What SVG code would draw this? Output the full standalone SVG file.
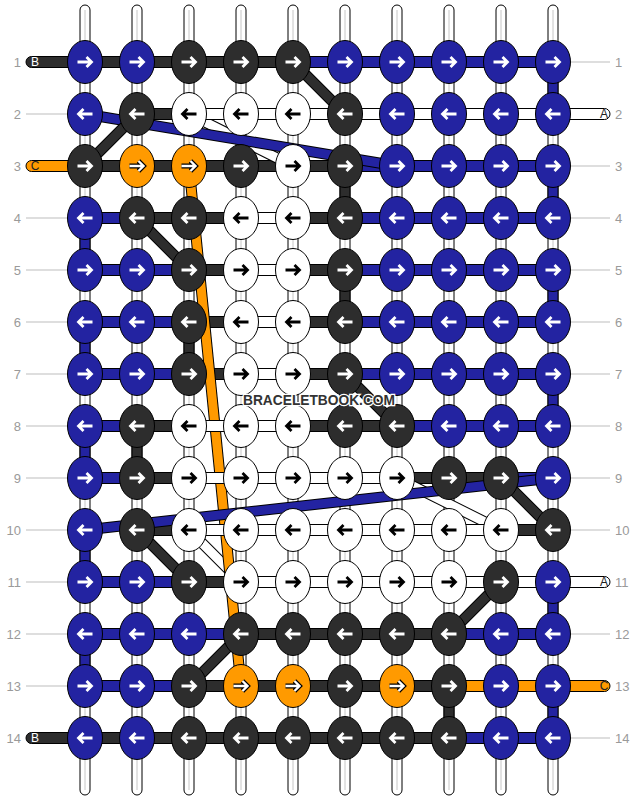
<svg xmlns="http://www.w3.org/2000/svg" xmlns:xlink="http://www.w3.org/1999/xlink" width="636" height="800" viewBox="0 0 636 800">
<style>
.b{fill:#2323a1}.d{fill:#2d2d2d}.w{fill:#fff}.o{fill:#ff9a00}
.aw{stroke:#fff;stroke-width:2.8}.ak{stroke:#000;stroke-width:2.8}.ab{stroke:#000;stroke-width:4.8}.ao{stroke:#fff;stroke-width:2.4}
.num{font-family:"Liberation Sans",Arial,sans-serif;font-size:13px;fill:#9a9a9a}
.lab{font-family:"Liberation Sans",Arial,sans-serif;font-size:12px}
.gl{stroke:#bdbdbd;stroke-width:1}
</style>
<defs>
<ellipse id="E" rx="17.5" ry="21.5" stroke="#000" stroke-width="1"/>
<path id="R" d="M-7.5 0H6M1.5-5L6.5 0L1.5 5" fill="none"/>
<path id="L" d="M7.5 0H-6M-1.5-5L-6.5 0L-1.5 5" fill="none"/>
<rect id="H" x="0" y="-5.5" width="32" height="11" stroke="#000" stroke-width="1"/>
<rect id="V" x="-5" y="0" width="10" height="22" stroke="#000" stroke-width="1"/>
</defs>
<rect width="636" height="800" fill="#fff"/>
<g id="labels">
<g class="gl">
<line x1="26" y1="114" x2="68" y2="114"/><line x1="26" y1="218" x2="68" y2="218"/><line x1="26" y1="270" x2="68" y2="270"/><line x1="26" y1="322" x2="68" y2="322"/><line x1="26" y1="374" x2="68" y2="374"/><line x1="26" y1="426" x2="68" y2="426"/><line x1="26" y1="478" x2="68" y2="478"/><line x1="26" y1="530" x2="68" y2="530"/><line x1="26" y1="582" x2="68" y2="582"/><line x1="26" y1="634" x2="68" y2="634"/><line x1="26" y1="686" x2="68" y2="686"/>
<line x1="571" y1="62" x2="610" y2="62"/><line x1="571" y1="166" x2="610" y2="166"/><line x1="571" y1="218" x2="610" y2="218"/><line x1="571" y1="270" x2="610" y2="270"/><line x1="571" y1="322" x2="610" y2="322"/><line x1="571" y1="374" x2="610" y2="374"/><line x1="571" y1="426" x2="610" y2="426"/><line x1="571" y1="478" x2="610" y2="478"/><line x1="571" y1="530" x2="610" y2="530"/><line x1="571" y1="634" x2="610" y2="634"/><line x1="571" y1="738" x2="610" y2="738"/>
</g>
<g class="num" text-anchor="end">
<text x="21" y="66.5">1</text><text x="21" y="118.5">2</text><text x="21" y="170.5">3</text><text x="21" y="222.5">4</text><text x="21" y="274.5">5</text><text x="21" y="326.5">6</text><text x="21" y="378.5">7</text><text x="21" y="430.5">8</text><text x="21" y="482.5">9</text><text x="21" y="534.5">10</text><text x="21" y="586.5">11</text><text x="21" y="638.5">12</text><text x="21" y="690.5">13</text><text x="21" y="742.5">14</text>
</g>
<g class="num">
<text x="615" y="66.5">1</text><text x="615" y="118.5">2</text><text x="615" y="170.5">3</text><text x="615" y="222.5">4</text><text x="615" y="274.5">5</text><text x="615" y="326.5">6</text><text x="615" y="378.5">7</text><text x="615" y="430.5">8</text><text x="615" y="482.5">9</text><text x="615" y="534.5">10</text><text x="615" y="586.5">11</text><text x="615" y="638.5">12</text><text x="615" y="690.5">13</text><text x="615" y="742.5">14</text>
</g>
</g>
<g id="connectors">
<g id="verticals" fill="#fff" stroke="#000" stroke-width="1">
<rect x="80" y="5" width="10" height="790" rx="5"/><rect x="132" y="5" width="10" height="790" rx="5"/><rect x="184" y="5" width="10" height="790" rx="5"/><rect x="236" y="5" width="10" height="790" rx="5"/><rect x="288" y="5" width="10" height="790" rx="5"/><rect x="340" y="5" width="10" height="790" rx="5"/><rect x="392" y="5" width="10" height="790" rx="5"/><rect x="444" y="5" width="10" height="790" rx="5"/><rect x="496" y="5" width="10" height="790" rx="5"/><rect x="548" y="5" width="10" height="790" rx="5"/>
</g>
<g stroke="#c6c6c6" stroke-width="1">
<line x1="85" y1="10" x2="85" y2="790"/><line x1="137" y1="10" x2="137" y2="790"/><line x1="189" y1="10" x2="189" y2="790"/><line x1="241" y1="10" x2="241" y2="790"/><line x1="293" y1="10" x2="293" y2="790"/><line x1="345" y1="10" x2="345" y2="790"/><line x1="397" y1="10" x2="397" y2="790"/><line x1="449" y1="10" x2="449" y2="790"/><line x1="501" y1="10" x2="501" y2="790"/><line x1="553" y1="10" x2="553" y2="790"/>
</g>
<g id="vsegs">
<use href="#V" x="553" y="77" class="b"/><use href="#V" x="553" y="181" class="b"/><use href="#V" x="553" y="285" class="b"/><use href="#V" x="553" y="389" class="b"/><use href="#V" x="553" y="597" class="b"/><use href="#V" x="553" y="701" class="b"/>
<use href="#V" x="85" y="233" class="b"/><use href="#V" x="85" y="337" class="b"/><use href="#V" x="85" y="441" class="b"/><use href="#V" x="85" y="545" class="b"/><use href="#V" x="85" y="649" class="b"/>
<use href="#V" x="137" y="441" class="d"/><use href="#V" x="189" y="337" class="d"/><use href="#V" x="345" y="181" class="d"/><use href="#V" x="345" y="285" class="d"/><use href="#V" x="449" y="701" class="d"/>
</g>
<g id="hsegs">
<use href="#H" x="95" y="62" class="d"/><use href="#H" x="147" y="62" class="d"/><use href="#H" x="199" y="62" class="d"/><use href="#H" x="251" y="62" class="d"/><use href="#H" x="303" y="62" class="b"/><use href="#H" x="355" y="62" class="b"/><use href="#H" x="407" y="62" class="b"/><use href="#H" x="459" y="62" class="b"/><use href="#H" x="511" y="62" class="b"/>
<use href="#H" x="147" y="114" class="d"/>
<use href="#H" x="95" y="166" class="d"/><use href="#H" x="147" y="166" class="d"/><use href="#H" x="199" y="166" class="d"/><use href="#H" x="251" y="166" class="d"/><use href="#H" x="303" y="166" class="d"/><use href="#H" x="355" y="166" class="b"/><use href="#H" x="407" y="166" class="b"/><use href="#H" x="459" y="166" class="b"/><use href="#H" x="511" y="166" class="b"/>
<use href="#H" x="95" y="218" class="b"/><use href="#H" x="147" y="218" class="d"/><use href="#H" x="199" y="218" class="d"/><use href="#H" x="303" y="218" class="d"/><use href="#H" x="355" y="218" class="b"/><use href="#H" x="407" y="218" class="b"/><use href="#H" x="459" y="218" class="b"/><use href="#H" x="511" y="218" class="b"/>
<use href="#H" x="95" y="270" class="b"/><use href="#H" x="147" y="270" class="b"/><use href="#H" x="199" y="270" class="d"/><use href="#H" x="303" y="270" class="d"/><use href="#H" x="355" y="270" class="b"/><use href="#H" x="407" y="270" class="b"/><use href="#H" x="459" y="270" class="b"/><use href="#H" x="511" y="270" class="b"/>
<use href="#H" x="95" y="322" class="b"/><use href="#H" x="147" y="322" class="b"/><use href="#H" x="199" y="322" class="d"/><use href="#H" x="303" y="322" class="d"/><use href="#H" x="355" y="322" class="b"/><use href="#H" x="407" y="322" class="b"/><use href="#H" x="459" y="322" class="b"/><use href="#H" x="511" y="322" class="b"/>
<use href="#H" x="95" y="374" class="b"/><use href="#H" x="147" y="374" class="b"/><use href="#H" x="199" y="374" class="d"/><use href="#H" x="303" y="374" class="d"/><use href="#H" x="355" y="374" class="b"/><use href="#H" x="407" y="374" class="b"/><use href="#H" x="459" y="374" class="b"/><use href="#H" x="511" y="374" class="b"/>
<use href="#H" x="95" y="426" class="b"/><use href="#H" x="147" y="426" class="d"/><use href="#H" x="303" y="426" class="d"/><use href="#H" x="355" y="426" class="d"/><use href="#H" x="407" y="426" class="b"/><use href="#H" x="459" y="426" class="b"/><use href="#H" x="511" y="426" class="b"/>
<use href="#H" x="95" y="478" class="b"/><use href="#H" x="147" y="478" class="d"/><use href="#H" x="407" y="478" class="d"/><use href="#H" x="459" y="478" class="d"/><use href="#H" x="511" y="478" class="b"/>
<use href="#H" x="147" y="530" class="d"/><use href="#H" x="511" y="530" class="d"/>
<use href="#H" x="95" y="582" class="b"/><use href="#H" x="147" y="582" class="b"/><use href="#H" x="199" y="582" class="d"/>
<use href="#H" x="95" y="634" class="b"/><use href="#H" x="147" y="634" class="b"/><use href="#H" x="199" y="634" class="b"/><use href="#H" x="251" y="634" class="d"/><use href="#H" x="303" y="634" class="d"/><use href="#H" x="355" y="634" class="d"/><use href="#H" x="407" y="634" class="d"/><use href="#H" x="459" y="634" class="b"/><use href="#H" x="511" y="634" class="b"/>
<use href="#H" x="95" y="686" class="b"/><use href="#H" x="147" y="686" class="b"/><use href="#H" x="199" y="686" class="d"/><use href="#H" x="251" y="686" class="d"/><use href="#H" x="303" y="686" class="d"/><use href="#H" x="355" y="686" class="d"/><use href="#H" x="407" y="686" class="d"/><use href="#H" x="459" y="686" class="o"/><use href="#H" x="511" y="686" class="o"/>
<use href="#H" x="95" y="738" class="d"/><use href="#H" x="147" y="738" class="d"/><use href="#H" x="199" y="738" class="d"/><use href="#H" x="251" y="738" class="d"/><use href="#H" x="303" y="738" class="d"/><use href="#H" x="355" y="738" class="d"/><use href="#H" x="407" y="738" class="d"/><use href="#H" x="459" y="738" class="b"/><use href="#H" x="511" y="738" class="b"/>
</g>
<g id="diagonals" fill="none">
<g stroke="#000" stroke-width="11">
<line x1="189" y1="114" x2="293" y2="166"/><line x1="397" y1="478" x2="501" y2="530"/><line x1="189" y1="530" x2="241" y2="582"/>
</g>
<g stroke="#fff" stroke-width="9">
<line x1="189" y1="114" x2="293" y2="166"/><line x1="397" y1="478" x2="501" y2="530"/><line x1="189" y1="530" x2="241" y2="582"/>
</g>
<line x1="189" y1="166" x2="241" y2="686" stroke="#000" stroke-width="11"/>
<line x1="189" y1="166" x2="241" y2="686" stroke="#ff9a00" stroke-width="9"/>
<g stroke="#000" stroke-width="11">
<line x1="85" y1="114" x2="397" y2="166"/><line x1="553" y1="478" x2="85" y2="530"/>
</g>
<g stroke="#2323a1" stroke-width="9">
<line x1="85" y1="114" x2="397" y2="166"/><line x1="553" y1="478" x2="85" y2="530"/>
</g>
<g stroke="#000" stroke-width="11">
<line x1="293" y1="62" x2="345" y2="114"/><line x1="137" y1="114" x2="85" y2="166"/><line x1="137" y1="218" x2="189" y2="270"/><line x1="345" y1="374" x2="397" y2="426"/><line x1="501" y1="478" x2="553" y2="530"/><line x1="137" y1="530" x2="189" y2="582"/><line x1="501" y1="582" x2="449" y2="634"/><line x1="241" y1="634" x2="189" y2="686"/>
</g>
<g stroke="#2d2d2d" stroke-width="9">
<line x1="293" y1="62" x2="345" y2="114"/><line x1="137" y1="114" x2="85" y2="166"/><line x1="137" y1="218" x2="189" y2="270"/><line x1="345" y1="374" x2="397" y2="426"/><line x1="501" y1="478" x2="553" y2="530"/><line x1="137" y1="530" x2="189" y2="582"/><line x1="501" y1="582" x2="449" y2="634"/><line x1="241" y1="634" x2="189" y2="686"/>
</g>
</g>
<g id="whitesegs" class="w">
<use href="#H" x="199" y="114"/><use href="#H" x="251" y="114"/><use href="#H" x="303" y="114"/><use href="#H" x="355" y="114"/><use href="#H" x="407" y="114"/><use href="#H" x="459" y="114"/><use href="#H" x="511" y="114"/>
<use href="#H" x="251" y="218"/><use href="#H" x="251" y="270"/><use href="#H" x="251" y="322"/><use href="#H" x="251" y="374"/>
<use href="#H" x="199" y="426"/><use href="#H" x="251" y="426"/>
<use href="#H" x="199" y="478"/><use href="#H" x="251" y="478"/><use href="#H" x="303" y="478"/><use href="#H" x="355" y="478"/>
<use href="#H" x="199" y="530"/><use href="#H" x="251" y="530"/><use href="#H" x="303" y="530"/><use href="#H" x="355" y="530"/><use href="#H" x="407" y="530"/><use href="#H" x="459" y="530"/>
<use href="#H" x="251" y="582"/><use href="#H" x="303" y="582"/><use href="#H" x="355" y="582"/><use href="#H" x="407" y="582"/><use href="#H" x="459" y="582"/><use href="#H" x="511" y="582"/>
</g>
<g id="ends" stroke="#000" stroke-width="1">
<rect x="26" y="56.5" width="59" height="11" rx="5.5" class="d"/>
<rect x="26" y="160.5" width="59" height="11" rx="5.5" class="o"/>
<rect x="26" y="732.5" width="59" height="11" rx="5.5" class="d"/>
<rect x="553" y="108.5" width="57" height="11" rx="5.5" class="w"/>
<rect x="553" y="576.5" width="57" height="11" rx="5.5" class="w"/>
<rect x="553" y="680.5" width="57" height="11" rx="5.5" class="o"/>
</g>
<g class="lab" text-anchor="middle">
<text x="35" y="66.3" fill="#fff">B</text><text x="35" y="170.3" fill="#222">C</text><text x="35" y="742.3" fill="#fff">B</text>
<text x="604" y="118.3" fill="#222">A</text><text x="604" y="586.3" fill="#222">A</text><text x="604" y="690.3" fill="#222">C</text>
</g>
</g>
<g id="knots">
<g id="k1-1"><use href="#E" x="85" y="62" class="b"/><use href="#R" x="85" y="62" class="aw"/></g>
<g id="k1-2"><use href="#E" x="137" y="62" class="b"/><use href="#R" x="137" y="62" class="aw"/></g>
<g id="k1-3"><use href="#E" x="189" y="62" class="d"/><use href="#R" x="189" y="62" class="aw"/></g>
<g id="k1-4"><use href="#E" x="241" y="62" class="d"/><use href="#R" x="241" y="62" class="aw"/></g>
<g id="k1-5"><use href="#E" x="293" y="62" class="d"/><use href="#R" x="293" y="62" class="aw"/></g>
<g id="k1-6"><use href="#E" x="345" y="62" class="b"/><use href="#R" x="345" y="62" class="aw"/></g>
<g id="k1-7"><use href="#E" x="397" y="62" class="b"/><use href="#R" x="397" y="62" class="aw"/></g>
<g id="k1-8"><use href="#E" x="449" y="62" class="b"/><use href="#R" x="449" y="62" class="aw"/></g>
<g id="k1-9"><use href="#E" x="501" y="62" class="b"/><use href="#R" x="501" y="62" class="aw"/></g>
<g id="k1-10"><use href="#E" x="553" y="62" class="b"/><use href="#R" x="553" y="62" class="aw"/></g>
<g id="k2-1"><use href="#E" x="85" y="114" class="b"/><use href="#L" x="85" y="114" class="aw"/></g>
<g id="k2-2"><use href="#E" x="137" y="114" class="d"/><use href="#L" x="137" y="114" class="aw"/></g>
<g id="k2-3"><use href="#E" x="189" y="114" class="w"/><use href="#L" x="189" y="114" class="ak"/></g>
<g id="k2-4"><use href="#E" x="241" y="114" class="w"/><use href="#L" x="241" y="114" class="ak"/></g>
<g id="k2-5"><use href="#E" x="293" y="114" class="w"/><use href="#L" x="293" y="114" class="ak"/></g>
<g id="k2-6"><use href="#E" x="345" y="114" class="d"/><use href="#L" x="345" y="114" class="aw"/></g>
<g id="k2-7"><use href="#E" x="397" y="114" class="b"/><use href="#L" x="397" y="114" class="aw"/></g>
<g id="k2-8"><use href="#E" x="449" y="114" class="b"/><use href="#L" x="449" y="114" class="aw"/></g>
<g id="k2-9"><use href="#E" x="501" y="114" class="b"/><use href="#L" x="501" y="114" class="aw"/></g>
<g id="k2-10"><use href="#E" x="553" y="114" class="b"/><use href="#L" x="553" y="114" class="aw"/></g>
<g id="k3-1"><use href="#E" x="85" y="166" class="d"/><use href="#R" x="85" y="166" class="aw"/></g>
<g id="k3-2"><use href="#E" x="137" y="166" class="o"/><use href="#R" x="137" y="166" class="ab"/><use href="#R" x="137" y="166" class="ao"/></g>
<g id="k3-3"><use href="#E" x="189" y="166" class="o"/><use href="#R" x="189" y="166" class="ab"/><use href="#R" x="189" y="166" class="ao"/></g>
<g id="k3-4"><use href="#E" x="241" y="166" class="d"/><use href="#R" x="241" y="166" class="aw"/></g>
<g id="k3-5"><use href="#E" x="293" y="166" class="w"/><use href="#R" x="293" y="166" class="ak"/></g>
<g id="k3-6"><use href="#E" x="345" y="166" class="d"/><use href="#R" x="345" y="166" class="aw"/></g>
<g id="k3-7"><use href="#E" x="397" y="166" class="b"/><use href="#R" x="397" y="166" class="aw"/></g>
<g id="k3-8"><use href="#E" x="449" y="166" class="b"/><use href="#R" x="449" y="166" class="aw"/></g>
<g id="k3-9"><use href="#E" x="501" y="166" class="b"/><use href="#R" x="501" y="166" class="aw"/></g>
<g id="k3-10"><use href="#E" x="553" y="166" class="b"/><use href="#R" x="553" y="166" class="aw"/></g>
<g id="k4-1"><use href="#E" x="85" y="218" class="b"/><use href="#L" x="85" y="218" class="aw"/></g>
<g id="k4-2"><use href="#E" x="137" y="218" class="d"/><use href="#L" x="137" y="218" class="aw"/></g>
<g id="k4-3"><use href="#E" x="189" y="218" class="d"/><use href="#L" x="189" y="218" class="aw"/></g>
<g id="k4-4"><use href="#E" x="241" y="218" class="w"/><use href="#L" x="241" y="218" class="ak"/></g>
<g id="k4-5"><use href="#E" x="293" y="218" class="w"/><use href="#L" x="293" y="218" class="ak"/></g>
<g id="k4-6"><use href="#E" x="345" y="218" class="d"/><use href="#L" x="345" y="218" class="aw"/></g>
<g id="k4-7"><use href="#E" x="397" y="218" class="b"/><use href="#L" x="397" y="218" class="aw"/></g>
<g id="k4-8"><use href="#E" x="449" y="218" class="b"/><use href="#L" x="449" y="218" class="aw"/></g>
<g id="k4-9"><use href="#E" x="501" y="218" class="b"/><use href="#L" x="501" y="218" class="aw"/></g>
<g id="k4-10"><use href="#E" x="553" y="218" class="b"/><use href="#L" x="553" y="218" class="aw"/></g>
<g id="k5-1"><use href="#E" x="85" y="270" class="b"/><use href="#R" x="85" y="270" class="aw"/></g>
<g id="k5-2"><use href="#E" x="137" y="270" class="b"/><use href="#R" x="137" y="270" class="aw"/></g>
<g id="k5-3"><use href="#E" x="189" y="270" class="d"/><use href="#R" x="189" y="270" class="aw"/></g>
<g id="k5-4"><use href="#E" x="241" y="270" class="w"/><use href="#R" x="241" y="270" class="ak"/></g>
<g id="k5-5"><use href="#E" x="293" y="270" class="w"/><use href="#R" x="293" y="270" class="ak"/></g>
<g id="k5-6"><use href="#E" x="345" y="270" class="d"/><use href="#R" x="345" y="270" class="aw"/></g>
<g id="k5-7"><use href="#E" x="397" y="270" class="b"/><use href="#R" x="397" y="270" class="aw"/></g>
<g id="k5-8"><use href="#E" x="449" y="270" class="b"/><use href="#R" x="449" y="270" class="aw"/></g>
<g id="k5-9"><use href="#E" x="501" y="270" class="b"/><use href="#R" x="501" y="270" class="aw"/></g>
<g id="k5-10"><use href="#E" x="553" y="270" class="b"/><use href="#R" x="553" y="270" class="aw"/></g>
<g id="k6-1"><use href="#E" x="85" y="322" class="b"/><use href="#L" x="85" y="322" class="aw"/></g>
<g id="k6-2"><use href="#E" x="137" y="322" class="b"/><use href="#L" x="137" y="322" class="aw"/></g>
<g id="k6-3"><use href="#E" x="189" y="322" class="d"/><use href="#L" x="189" y="322" class="aw"/></g>
<g id="k6-4"><use href="#E" x="241" y="322" class="w"/><use href="#L" x="241" y="322" class="ak"/></g>
<g id="k6-5"><use href="#E" x="293" y="322" class="w"/><use href="#L" x="293" y="322" class="ak"/></g>
<g id="k6-6"><use href="#E" x="345" y="322" class="d"/><use href="#L" x="345" y="322" class="aw"/></g>
<g id="k6-7"><use href="#E" x="397" y="322" class="b"/><use href="#L" x="397" y="322" class="aw"/></g>
<g id="k6-8"><use href="#E" x="449" y="322" class="b"/><use href="#L" x="449" y="322" class="aw"/></g>
<g id="k6-9"><use href="#E" x="501" y="322" class="b"/><use href="#L" x="501" y="322" class="aw"/></g>
<g id="k6-10"><use href="#E" x="553" y="322" class="b"/><use href="#L" x="553" y="322" class="aw"/></g>
<g id="k7-1"><use href="#E" x="85" y="374" class="b"/><use href="#R" x="85" y="374" class="aw"/></g>
<g id="k7-2"><use href="#E" x="137" y="374" class="b"/><use href="#R" x="137" y="374" class="aw"/></g>
<g id="k7-3"><use href="#E" x="189" y="374" class="d"/><use href="#R" x="189" y="374" class="aw"/></g>
<g id="k7-4"><use href="#E" x="241" y="374" class="w"/><use href="#R" x="241" y="374" class="ak"/></g>
<g id="k7-5"><use href="#E" x="293" y="374" class="w"/><use href="#R" x="293" y="374" class="ak"/></g>
<g id="k7-6"><use href="#E" x="345" y="374" class="d"/><use href="#R" x="345" y="374" class="aw"/></g>
<g id="k7-7"><use href="#E" x="397" y="374" class="b"/><use href="#R" x="397" y="374" class="aw"/></g>
<g id="k7-8"><use href="#E" x="449" y="374" class="b"/><use href="#R" x="449" y="374" class="aw"/></g>
<g id="k7-9"><use href="#E" x="501" y="374" class="b"/><use href="#R" x="501" y="374" class="aw"/></g>
<g id="k7-10"><use href="#E" x="553" y="374" class="b"/><use href="#R" x="553" y="374" class="aw"/></g>
<g id="k8-1"><use href="#E" x="85" y="426" class="b"/><use href="#L" x="85" y="426" class="aw"/></g>
<g id="k8-2"><use href="#E" x="137" y="426" class="d"/><use href="#L" x="137" y="426" class="aw"/></g>
<g id="k8-3"><use href="#E" x="189" y="426" class="w"/><use href="#L" x="189" y="426" class="ak"/></g>
<g id="k8-4"><use href="#E" x="241" y="426" class="w"/><use href="#L" x="241" y="426" class="ak"/></g>
<g id="k8-5"><use href="#E" x="293" y="426" class="w"/><use href="#L" x="293" y="426" class="ak"/></g>
<g id="k8-6"><use href="#E" x="345" y="426" class="d"/><use href="#L" x="345" y="426" class="aw"/></g>
<g id="k8-7"><use href="#E" x="397" y="426" class="d"/><use href="#L" x="397" y="426" class="aw"/></g>
<g id="k8-8"><use href="#E" x="449" y="426" class="b"/><use href="#L" x="449" y="426" class="aw"/></g>
<g id="k8-9"><use href="#E" x="501" y="426" class="b"/><use href="#L" x="501" y="426" class="aw"/></g>
<g id="k8-10"><use href="#E" x="553" y="426" class="b"/><use href="#L" x="553" y="426" class="aw"/></g>
<g id="k9-1"><use href="#E" x="85" y="478" class="b"/><use href="#R" x="85" y="478" class="aw"/></g>
<g id="k9-2"><use href="#E" x="137" y="478" class="d"/><use href="#R" x="137" y="478" class="aw"/></g>
<g id="k9-3"><use href="#E" x="189" y="478" class="w"/><use href="#R" x="189" y="478" class="ak"/></g>
<g id="k9-4"><use href="#E" x="241" y="478" class="w"/><use href="#R" x="241" y="478" class="ak"/></g>
<g id="k9-5"><use href="#E" x="293" y="478" class="w"/><use href="#R" x="293" y="478" class="ak"/></g>
<g id="k9-6"><use href="#E" x="345" y="478" class="w"/><use href="#R" x="345" y="478" class="ak"/></g>
<g id="k9-7"><use href="#E" x="397" y="478" class="w"/><use href="#R" x="397" y="478" class="ak"/></g>
<g id="k9-8"><use href="#E" x="449" y="478" class="d"/><use href="#R" x="449" y="478" class="aw"/></g>
<g id="k9-9"><use href="#E" x="501" y="478" class="d"/><use href="#R" x="501" y="478" class="aw"/></g>
<g id="k9-10"><use href="#E" x="553" y="478" class="b"/><use href="#R" x="553" y="478" class="aw"/></g>
<g id="k10-1"><use href="#E" x="85" y="530" class="b"/><use href="#L" x="85" y="530" class="aw"/></g>
<g id="k10-2"><use href="#E" x="137" y="530" class="d"/><use href="#L" x="137" y="530" class="aw"/></g>
<g id="k10-3"><use href="#E" x="189" y="530" class="w"/><use href="#L" x="189" y="530" class="ak"/></g>
<g id="k10-4"><use href="#E" x="241" y="530" class="w"/><use href="#L" x="241" y="530" class="ak"/></g>
<g id="k10-5"><use href="#E" x="293" y="530" class="w"/><use href="#L" x="293" y="530" class="ak"/></g>
<g id="k10-6"><use href="#E" x="345" y="530" class="w"/><use href="#L" x="345" y="530" class="ak"/></g>
<g id="k10-7"><use href="#E" x="397" y="530" class="w"/><use href="#L" x="397" y="530" class="ak"/></g>
<g id="k10-8"><use href="#E" x="449" y="530" class="w"/><use href="#L" x="449" y="530" class="ak"/></g>
<g id="k10-9"><use href="#E" x="501" y="530" class="w"/><use href="#L" x="501" y="530" class="ak"/></g>
<g id="k10-10"><use href="#E" x="553" y="530" class="d"/><use href="#L" x="553" y="530" class="aw"/></g>
<g id="k11-1"><use href="#E" x="85" y="582" class="b"/><use href="#R" x="85" y="582" class="aw"/></g>
<g id="k11-2"><use href="#E" x="137" y="582" class="b"/><use href="#R" x="137" y="582" class="aw"/></g>
<g id="k11-3"><use href="#E" x="189" y="582" class="d"/><use href="#R" x="189" y="582" class="aw"/></g>
<g id="k11-4"><use href="#E" x="241" y="582" class="w"/><use href="#R" x="241" y="582" class="ak"/></g>
<g id="k11-5"><use href="#E" x="293" y="582" class="w"/><use href="#R" x="293" y="582" class="ak"/></g>
<g id="k11-6"><use href="#E" x="345" y="582" class="w"/><use href="#R" x="345" y="582" class="ak"/></g>
<g id="k11-7"><use href="#E" x="397" y="582" class="w"/><use href="#R" x="397" y="582" class="ak"/></g>
<g id="k11-8"><use href="#E" x="449" y="582" class="w"/><use href="#R" x="449" y="582" class="ak"/></g>
<g id="k11-9"><use href="#E" x="501" y="582" class="d"/><use href="#R" x="501" y="582" class="aw"/></g>
<g id="k11-10"><use href="#E" x="553" y="582" class="b"/><use href="#R" x="553" y="582" class="aw"/></g>
<g id="k12-1"><use href="#E" x="85" y="634" class="b"/><use href="#L" x="85" y="634" class="aw"/></g>
<g id="k12-2"><use href="#E" x="137" y="634" class="b"/><use href="#L" x="137" y="634" class="aw"/></g>
<g id="k12-3"><use href="#E" x="189" y="634" class="b"/><use href="#L" x="189" y="634" class="aw"/></g>
<g id="k12-4"><use href="#E" x="241" y="634" class="d"/><use href="#L" x="241" y="634" class="aw"/></g>
<g id="k12-5"><use href="#E" x="293" y="634" class="d"/><use href="#L" x="293" y="634" class="aw"/></g>
<g id="k12-6"><use href="#E" x="345" y="634" class="d"/><use href="#L" x="345" y="634" class="aw"/></g>
<g id="k12-7"><use href="#E" x="397" y="634" class="d"/><use href="#L" x="397" y="634" class="aw"/></g>
<g id="k12-8"><use href="#E" x="449" y="634" class="d"/><use href="#L" x="449" y="634" class="aw"/></g>
<g id="k12-9"><use href="#E" x="501" y="634" class="b"/><use href="#L" x="501" y="634" class="aw"/></g>
<g id="k12-10"><use href="#E" x="553" y="634" class="b"/><use href="#L" x="553" y="634" class="aw"/></g>
<g id="k13-1"><use href="#E" x="85" y="686" class="b"/><use href="#R" x="85" y="686" class="aw"/></g>
<g id="k13-2"><use href="#E" x="137" y="686" class="b"/><use href="#R" x="137" y="686" class="aw"/></g>
<g id="k13-3"><use href="#E" x="189" y="686" class="d"/><use href="#R" x="189" y="686" class="aw"/></g>
<g id="k13-4"><use href="#E" x="241" y="686" class="o"/><use href="#R" x="241" y="686" class="ab"/><use href="#R" x="241" y="686" class="ao"/></g>
<g id="k13-5"><use href="#E" x="293" y="686" class="o"/><use href="#R" x="293" y="686" class="ab"/><use href="#R" x="293" y="686" class="ao"/></g>
<g id="k13-6"><use href="#E" x="345" y="686" class="d"/><use href="#R" x="345" y="686" class="aw"/></g>
<g id="k13-7"><use href="#E" x="397" y="686" class="o"/><use href="#R" x="397" y="686" class="ab"/><use href="#R" x="397" y="686" class="ao"/></g>
<g id="k13-8"><use href="#E" x="449" y="686" class="d"/><use href="#R" x="449" y="686" class="aw"/></g>
<g id="k13-9"><use href="#E" x="501" y="686" class="b"/><use href="#R" x="501" y="686" class="aw"/></g>
<g id="k13-10"><use href="#E" x="553" y="686" class="b"/><use href="#R" x="553" y="686" class="aw"/></g>
<g id="k14-1"><use href="#E" x="85" y="738" class="b"/><use href="#L" x="85" y="738" class="aw"/></g>
<g id="k14-2"><use href="#E" x="137" y="738" class="b"/><use href="#L" x="137" y="738" class="aw"/></g>
<g id="k14-3"><use href="#E" x="189" y="738" class="d"/><use href="#L" x="189" y="738" class="aw"/></g>
<g id="k14-4"><use href="#E" x="241" y="738" class="d"/><use href="#L" x="241" y="738" class="aw"/></g>
<g id="k14-5"><use href="#E" x="293" y="738" class="d"/><use href="#L" x="293" y="738" class="aw"/></g>
<g id="k14-6"><use href="#E" x="345" y="738" class="d"/><use href="#L" x="345" y="738" class="aw"/></g>
<g id="k14-7"><use href="#E" x="397" y="738" class="d"/><use href="#L" x="397" y="738" class="aw"/></g>
<g id="k14-8"><use href="#E" x="449" y="738" class="d"/><use href="#L" x="449" y="738" class="aw"/></g>
<g id="k14-9"><use href="#E" x="501" y="738" class="b"/><use href="#L" x="501" y="738" class="aw"/></g>
<g id="k14-10"><use href="#E" x="553" y="738" class="b"/><use href="#L" x="553" y="738" class="aw"/></g>
</g>
<text x="319" y="405" text-anchor="middle" font-family="'Liberation Sans',Arial,sans-serif" font-weight="bold" font-size="15" textLength="152" lengthAdjust="spacingAndGlyphs" fill="#333" stroke="#fff" stroke-width="2.5" paint-order="stroke">BRACELETBOOK.COM</text>
</svg>
